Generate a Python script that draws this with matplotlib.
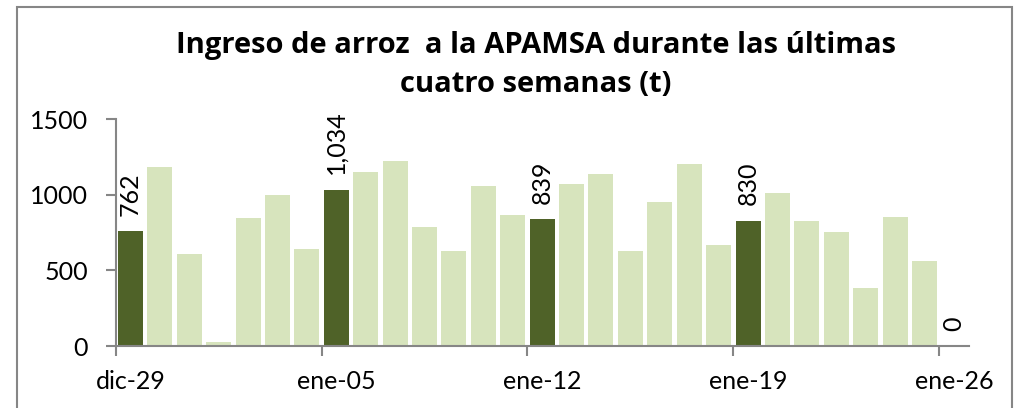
import matplotlib
matplotlib.use("Agg")
import matplotlib.pyplot as plt
from matplotlib.patches import Rectangle
import pandas as pd

plt.rcParams['font.family'] = ['Lato', 'DejaVu Sans']

# ---- data ----
dates = pd.date_range("2014-12-29", "2015-01-26", freq="D")
values = [762, 1183, 611, 26, 848, 998, 640,
          1034, 1152, 1221, 788, 629, 1060, 868,
          839, 1073, 1139, 631, 954, 1207, 669,
          830, 1011, 828, 751, 386, 856, 563,
          0]
highlight_dates = ["2014-12-29", "2015-01-05", "2015-01-12", "2015-01-19", "2015-01-26"]
tick_dates = ["2014-12-29", "2015-01-05", "2015-01-12", "2015-01-19", "2015-01-26"]
tick_labels = ["dic-29", "ene-05", "ene-12", "ene-19", "ene-26"]
yticks = [0, 500, 1000, 1500]
title_lines = ["Ingreso de arroz  a la APAMSA durante las últimas", "cuatro semanas (t)"]

dark = "#4F6228"
light = "#D7E4BD"
grey = "#868686"

fig = plt.figure(figsize=(10.22, 4.08), dpi=100)
ax = fig.add_axes([115.7 / 1022, 62 / 408, 852.9 / 1022, 226.7 / 408])

half_day = pd.Timedelta(hours=12)
hl = set(pd.to_datetime(highlight_dates))
colors = [dark if d in hl else light for d in dates]
centers = dates + half_day
ax.bar(centers, values, width=0.85, color=colors, edgecolor="none", zorder=2)

for d, c, v in zip(dates, centers, values):
    if d in hl:
        ax.annotate(f"{v:,}", (c, v), xytext=(0, 11), textcoords="offset points",
                    rotation=90, ha="center", va="bottom", fontsize=18, color="black")

ax.set_xlim(pd.Timestamp("2014-12-29"), pd.Timestamp("2015-01-27"))
ax.set_ylim(0, 1500)
ax.set_yticks(yticks)
ax.set_yticklabels([str(t) for t in yticks])
tdates = pd.to_datetime(tick_dates)
ax.set_xticks(tdates)
ax.set_xticklabels([""] * len(tdates))
ax.set_xticks(tdates + half_day, minor=True)
ax.set_xticklabels(tick_labels, minor=True)

for s in ["top", "right"]:
    ax.spines[s].set_visible(False)
for s in ["left", "bottom"]:
    ax.spines[s].set_color(grey)
    ax.spines[s].set_linewidth(1.5)
ax.tick_params(axis="both", which="major", direction="out", length=7, width=1.5, color=grey,
               labelsize=18, labelcolor="black")
ax.tick_params(axis="x", which="minor", length=0, labelsize=18, labelcolor="black", pad=17)
ax.tick_params(axis="y", pad=13)

cx = 536 / 1022
fig.text(cx, 1 - 53.5 / 408, title_lines[0], ha="center", va="baseline",
         fontsize=21, fontweight="bold", family=["Open Sans", "DejaVu Sans"])
fig.text(cx, 1 - 91.5 / 408, title_lines[1], ha="center", va="baseline",
         fontsize=21, fontweight="bold", family=["Open Sans", "DejaVu Sans"])

fig.patches.append(Rectangle((17 / 1022, -0.1), (1012 - 17) / 1022, 1.1 - 7 / 408,
                             transform=fig.transFigure, fill=False,
                             edgecolor=grey, linewidth=1.5))

fig.savefig("out.png", dpi=100)
